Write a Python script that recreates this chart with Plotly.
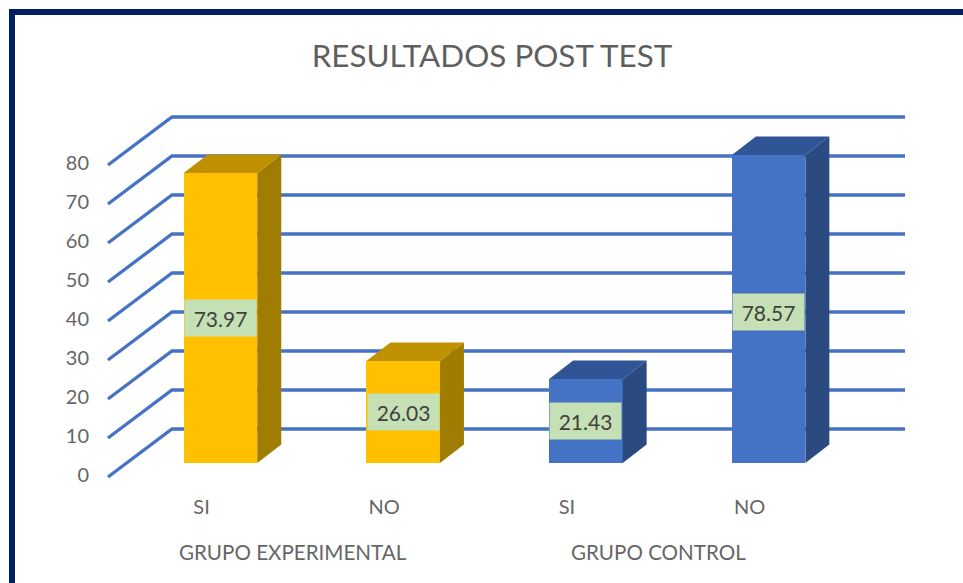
import plotly.graph_objects as go

title = "RESULTADOS POST TEST"
groups = ["GRUPO EXPERIMENTAL", "GRUPO CONTROL"]
answers = ["SI", "NO", "SI", "NO"]
values = [73.97, 26.03, 21.43, 78.57]
y_ticks = [0, 10, 20, 30, 40, 50, 60, 70, 80]

FRONT = ["#FFC000", "#FFC000", "#4472C4", "#4472C4"]
TOP = ["#BF9000", "#BF9000", "#2F5597", "#2F5597"]
SIDE = ["#A07D00", "#A07D00", "#2B4A7F", "#2B4A7F"]
GRID = "#4472C4"
FRAME = "#002060"
LABEL_BG = "#C5E0B4"
AXIS_TEXT = "#666666"
FONT = "Lato"

W, H = 963, 583
L, R, T, B = 90, 963, 16, 488          # plot area in page pixels
X0, X_UNIT = 220.5, 182.7              # first category centre, pixels per category
Y0, Y_UNIT = 475.0, 3.9                # value-axis zero, pixels per unit
Y2_0, Y2_UNIT = 463.0, 3.92            # bar floor, pixels per unit
BAR_W = 73.5 / X_UNIT
DX, DY = 24 / X_UNIT, 18.5 / Y2_UNIT   # bar depth
LABEL_NUDGE = [0, 0, 0, -3]            # data-label vertical nudge, pixels


def px_x(p):
    return (p - X0) / X_UNIT


def px(x):
    return (x - L) / (R - L)


def py(y):
    return (B - y) / (B - T)


idx = list(range(len(values)))
fig = go.Figure()

# wall lines with the diagonal run-in from the front plane
gx, gy = [], []
for v in y_ticks:
    gx += [px_x(108), px_x(172), px_x(905), None]
    gy += [v - 2 / Y_UNIT, v + 46 / Y_UNIT, v + 46 / Y_UNIT, None]
fig.add_trace(go.Scatter(x=gx, y=gy, mode="lines", yaxis="y",
                         line=dict(color=GRID, width=3.3), hoverinfo="skip", showlegend=False))

fig.add_trace(go.Bar(x=idx, y=values, width=BAR_W, yaxis="y2",
                     marker=dict(color=FRONT, line=dict(width=0)), showlegend=False))

for i, v in zip(idx, values):
    xl, xr = i - BAR_W / 2, i + BAR_W / 2
    fig.add_trace(go.Scatter(x=[xr, xr + DX, xr + DX, xr, xr], y=[0, DY, v + DY, v, 0],
                             yaxis="y2", mode="lines", fill="toself", fillcolor=SIDE[i],
                             line=dict(width=0, color=SIDE[i]), hoverinfo="skip", showlegend=False))
    fig.add_trace(go.Scatter(x=[xl, xl + DX, xr + DX, xr, xl], y=[v, v + DY, v + DY, v, v],
                             yaxis="y2", mode="lines", fill="toself", fillcolor=TOP[i],
                             line=dict(width=0, color=TOP[i]), hoverinfo="skip", showlegend=False))

annotations = []
for i, v in zip(idx, values):
    annotations.append(dict(x=i, y=v / 2, xref="x", yref="y2", text=f"{v:.2f}", showarrow=False,
                            width=69, height=34, bgcolor=LABEL_BG, xanchor="center", yanchor="middle",
                            yshift=LABEL_NUDGE[i],
                            font=dict(family=FONT, size=21, color="#404040")))
LABEL_SHIFT = 19 / X_UNIT
for name, mid in zip(groups, [0.5, 2.5]):
    annotations.append(dict(x=mid - LABEL_SHIFT, y=py(552), xref="x", yref="paper", text=name,
                            showarrow=False, xanchor="center", yanchor="middle",
                            font=dict(family=FONT, size=20.6, color=AXIS_TEXT)))

frame = [(9, 9, 963, 15), (9, 9, 15, 583)]
shapes = [dict(type="rect", xref="paper", yref="paper", x0=px(a), x1=px(c), y0=py(d), y1=py(b),
               fillcolor=FRAME, line=dict(width=0), layer="above") for a, b, c, d in frame]

fig.update_layout(
    width=W, height=H, margin=dict(l=L, r=W - R, t=T, b=H - B),
    paper_bgcolor="white", plot_bgcolor="white", bargap=0,
    font=dict(family=FONT),
    title=dict(text=title, xref="container", yref="container", x=492 / W, y=1 - 56 / H,
               xanchor="center", yanchor="middle", font=dict(family=FONT, size=31.4, color="#5F5F5F")),
    xaxis=dict(range=[(L - X0) / X_UNIT, (R - X0) / X_UNIT], showgrid=False, zeroline=False,
               showline=False, ticks="outside", ticklen=1, tickcolor="rgba(0,0,0,0)",
               tickmode="array", tickangle=0,
               tickvals=[i - LABEL_SHIFT for i in idx], ticktext=answers,
               tickfont=dict(family=FONT, size=20, color=AXIS_TEXT)),
    yaxis=dict(range=[(Y0 - B) / Y_UNIT, (Y0 - T) / Y_UNIT], showgrid=False, zeroline=False,
               showline=False, ticks="",
               tickmode="array", tickvals=y_ticks, ticktext=[str(t) for t in y_ticks],
               tickfont=dict(family=FONT, size=20, color=AXIS_TEXT)),
    yaxis2=dict(range=[(Y2_0 - B) / Y2_UNIT, (Y2_0 - T) / Y2_UNIT], overlaying="y", side="left",
                showgrid=False, zeroline=False, showline=False, showticklabels=False, ticks=""),
    annotations=annotations, shapes=shapes, showlegend=False,
)
fig.write_html("out.html", config=dict(displayModeBar=False),
               post_script="document.body.style.margin='0';")
